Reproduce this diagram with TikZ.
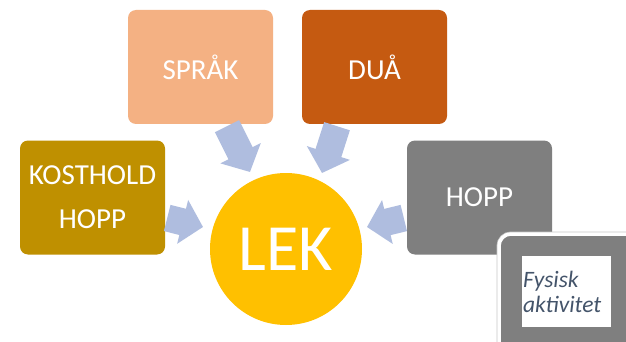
\documentclass[tikz,border=0pt]{standalone}
\usepackage{fontspec}
\setmainfont{Carlito}
\usetikzlibrary{arrows.meta,calc}
\definecolor{cSalmon}{HTML}{F4B183}
\definecolor{cDua}{HTML}{C55A11}
\definecolor{cKost}{HTML}{BF9000}
\definecolor{cGray}{HTML}{7F7F7F}
\definecolor{cLek}{HTML}{FFC000}
\definecolor{cArrow}{RGB}{175,189,223}
\definecolor{cText}{HTML}{44546A}
\definecolor{cEdge}{RGB}{200,200,200}
\begin{document}
\begin{tikzpicture}[x=1pt,y=-1pt,
  box/.style={rectangle, rounded corners=8pt, minimum width=145pt, minimum height=114pt,
    inner sep=0pt, text=white, font=\fontsize{29}{44}\selectfont, align=center},
  blk/.style={draw=cArrow, line width=27pt, -{Triangle[width=44pt,length=21pt]}},
  lekstyle/.style={circle, fill=cLek, minimum size=152pt, inner sep=0pt, text=white,
    font=\fontsize{66}{70}\selectfont},
  fysstyle/.style={rectangle, fill=white, minimum width=89pt, minimum height=71pt,
    text width=87pt, inner sep=1pt, align=left, text=cText,
    font=\fontsize{23.5}{25}\selectfont\itshape}
]
\useasboundingbox (0,0) rectangle (626,342);
\clip (0,0) rectangle (626,342);
\fill[white] (0,0) rectangle (626,342);

\node[box, fill=cSalmon] (sprak) at (200.5,67) {SPRÅK};
\node[box, fill=cDua] (dua) at (374.5,67) {DUÅ};
\node[box, fill=cKost] (kost) at (92.5,197.5) {KOSTHOLD\\HOPP};
\node[box, fill=cGray] (hopp) at (479.5,197.5) {HOPP};
\node[lekstyle] (lek) at (286,249) {LEK};

\draw[blk] ([xshift=26.5pt,yshift=-2pt]sprak.south) -- ([xshift=-36pt,yshift=77pt]lek.center);
\draw[blk] ([xshift=-37.5pt,yshift=-2pt]dua.south) -- ([xshift=36pt,yshift=76pt]lek.center);
\draw[blk] ([xshift=2pt,yshift=-20.5pt]kost.east) -- ([xshift=-83pt,yshift=22pt]lek.center);
\draw[blk] ([xshift=-3pt,yshift=-20.5pt]hopp.west) -- ([xshift=81pt,yshift=22pt]lek.center);

\draw[cEdge, line width=5pt, rounded corners=12pt] (499,234) -- (499,360) -- (640,360) -- (640,234) -- cycle;
\draw[fill=cGray, draw=white, line width=3.5pt, rounded corners=12pt] (499,234) -- (499,360) -- (640,360) -- (640,234) -- cycle;
\node[fysstyle] (fys) at (566.5,291.5) {Fysisk\\aktivitet};
\end{tikzpicture}
\end{document}
